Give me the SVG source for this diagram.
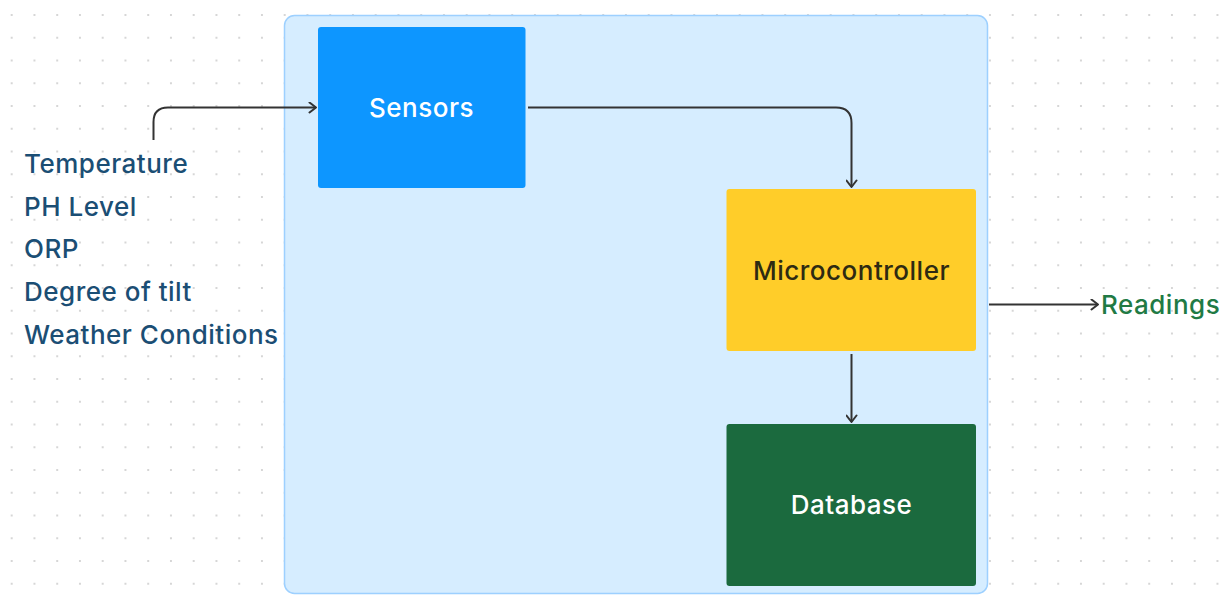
<svg xmlns="http://www.w3.org/2000/svg" width="1231" height="604" viewBox="0 0 1231 604">
  <defs>
    <pattern id="dots" x="11.7" y="15" width="22.75" height="22.75" patternUnits="userSpaceOnUse">
      <circle cx="0" cy="0" r="1" fill="#c9c9c9"/>
      <circle cx="22.75" cy="0" r="1" fill="#c9c9c9"/>
      <circle cx="0" cy="22.75" r="1" fill="#c9c9c9"/>
      <circle cx="22.75" cy="22.75" r="1" fill="#c9c9c9"/>
    </pattern>
    <marker id="chev" viewBox="0 0 12 12" refX="11" refY="6" markerWidth="12" markerHeight="12" markerUnits="userSpaceOnUse" orient="auto">
      <path d="M4.5 1 L11 6 L4.5 11" fill="none" stroke="#333" stroke-width="2" stroke-linecap="round" stroke-linejoin="round"/>
    </marker>
    <style>
      .lbl { font-family: Inter, "Liberation Sans", sans-serif; font-size: 26px; font-weight: 500; letter-spacing: 0.5px; }
      .list { fill: #1b4e74; }
      .mid { text-anchor: middle; }
      .wire { fill: none; stroke: #333; stroke-width: 2; marker-end: url(#chev); }
    </style>
  </defs>

  <rect width="1231" height="604" fill="#ffffff"/>
  <rect width="1231" height="604" fill="url(#dots)"/>

  <!-- system boundary -->
  <g id="system">
    <rect x="284.5" y="15.5" width="703" height="578" rx="10" fill="#d6edff" stroke="#9dd0ff" stroke-width="1.5"/>
  </g>

  <!-- measured quantities -->
  <g id="inputs" class="lbl list">
    <text x="24" y="173">Temperature</text>
    <text x="24" y="216">PH Level</text>
    <text x="24" y="258">ORP</text>
    <text x="24" y="301">Degree of tilt</text>
    <text x="24" y="344">Weather Conditions</text>
  </g>

  <g id="sensors">
    <rect x="318" y="27" width="207.5" height="161" rx="3" fill="#0d96ff"/>
    <text class="lbl mid" x="421.5" y="117" fill="#ffffff">Sensors</text>
  </g>

  <g id="microcontroller">
    <rect x="726.5" y="189" width="249.5" height="162" rx="3" fill="#ffcd29"/>
    <text class="lbl mid" x="851.5" y="280" fill="#2e2a12">Microcontroller</text>
  </g>

  <g id="database">
    <rect x="726.5" y="424" width="249.5" height="162" rx="3" fill="#1b6a3e"/>
    <text class="lbl mid" x="851.5" y="514" fill="#ffffff">Database</text>
  </g>

  <g id="readings">
    <text class="lbl" x="1101" y="314" fill="#217a44">Readings</text>
  </g>

  <!-- connectors -->
  <g id="connectors">
    <path class="wire" d="M153.5 140 V122 Q153.5 107.5 168 107.5 H316"/>
    <path class="wire" d="M528 107.5 H836 Q851.5 107.5 851.5 123 V187"/>
    <path class="wire" d="M851.5 354 V422"/>
    <path class="wire" d="M989 304.5 H1098"/>
  </g>
</svg>
